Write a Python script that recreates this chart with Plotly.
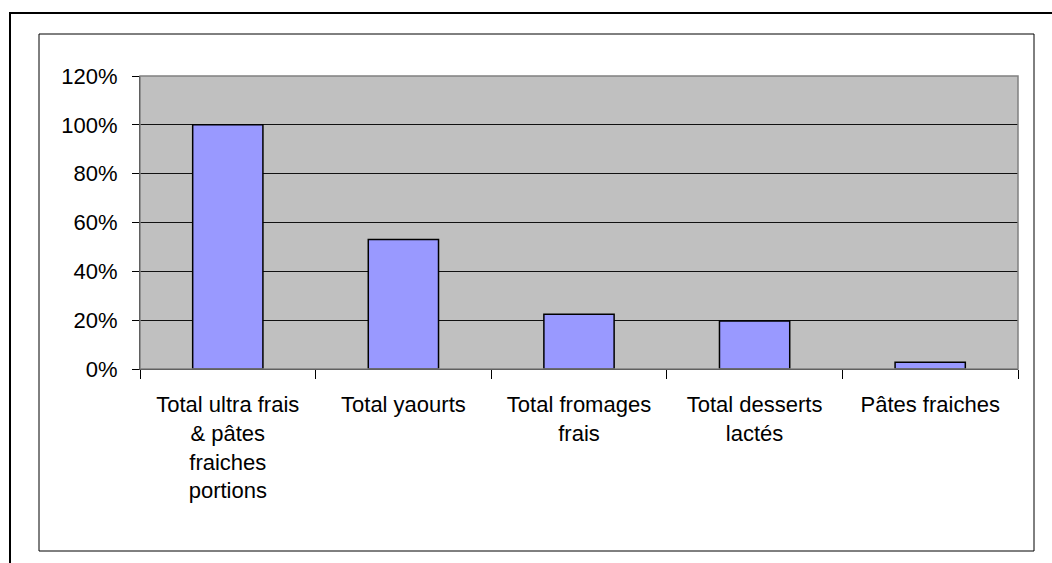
import plotly.graph_objects as go

categories = [
    "Total ultra frais<br>& pâtes<br>fraiches<br>portions",
    "Total yaourts",
    "Total fromages<br>frais",
    "Total desserts<br>lactés",
    "Pâtes fraiches",
]
values = [1.00, 0.53, 0.224, 0.197, 0.028]
y_ticks = [0, 0.2, 0.4, 0.6, 0.8, 1.0, 1.2]
y_tick_labels = ["0%", "20%", "40%", "60%", "80%", "100%", "120%"]

W, H = 1052, 563
L, R, T, B = 140, 1018, 76, 369  # plot area in pixels


def px(x):
    return (x - L) / (R - L)


def py(y):
    return (B - y) / (B - T)


fig = go.Figure(
    go.Bar(
        x=categories,
        y=values,
        width=0.4,
        marker=dict(color="#9999ff", line=dict(color="black", width=1.5)),
    )
)

font = dict(family="Liberation Sans, Arial, sans-serif", size=22, color="black")

fig.update_layout(
    width=W,
    height=H,
    margin=dict(l=L, r=W - R, t=T, b=H - B, pad=0),
    paper_bgcolor="white",
    plot_bgcolor="#c0c0c0",
    font=font,
    showlegend=False,
    bargap=0.6,
    xaxis=dict(
        type="category",
        tickson="boundaries",
        ticks="outside",
        ticklen=9,
        tickcolor="black",
        tickwidth=1,
        showline=True,
        linecolor="black",
        linewidth=1,
        showgrid=False,
        tickfont=font,
        ticklabelstandoff=16,
        fixedrange=True,
    ),
    yaxis=dict(
        range=[0, 1.2],
        tickvals=y_ticks,
        ticktext=y_tick_labels,
        ticks="outside",
        ticklen=7,
        tickcolor="black",
        showline=True,
        linecolor="black",
        linewidth=1,
        showgrid=True,
        gridcolor="#111111",
        gridwidth=1,
        zeroline=False,
        tickfont=font,
        ticklabelstandoff=10,
        fixedrange=True,
    ),
    shapes=[
        # plot area border (gray)
        dict(type="rect", xref="paper", yref="paper", x0=0, y0=0, x1=1, y1=1,
             line=dict(color="#808080", width=1.5), layer="above"),
        # inner chart-area border
        dict(type="rect", xref="paper", yref="paper",
             x0=px(39), y0=py(551), x1=px(1034), y1=py(34),
             line=dict(color="black", width=1), layer="below"),
        # outer frame (extends past right and bottom edges)
        dict(type="rect", xref="paper", yref="paper",
             x0=px(10), y0=py(600), x1=px(1100), y1=py(13),
             line=dict(color="black", width=2), layer="below"),
    ],
)

fig.write_html("out.html")
